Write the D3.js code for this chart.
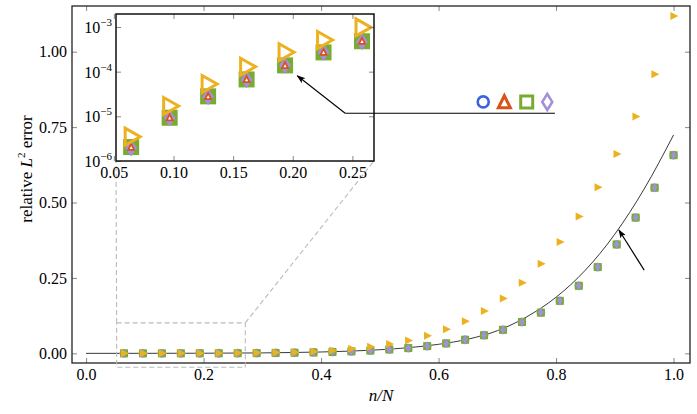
<!DOCTYPE html>
<html>
<head>
<meta charset="utf-8">
<script src="https://cdn.jsdelivr.net/npm/d3@7"></script>
<style>
  body { margin: 0; background: #fff; }
  text { font-family: "Liberation Serif", "DejaVu Serif", serif; fill: #000; }
</style>
</head>
<body>
<div id="chart"></div>
<script>
// sample index n, the x value is n/N
var N = 31;
var nValues = [2, 3, 4, 5, 6, 7, 8, 9, 10, 11, 12, 13, 14, 15, 16, 17, 18, 19, 20, 21, 22, 23, 24, 25, 26, 27, 28, 29, 30, 31];

// four nearly identical methods (circle, triangle, square, diamond)
var errCircle = [2.1e-6, 9.4e-6, 2.8e-5, 6.7e-5, 1.38e-4, 2.7e-4, 4.8e-4, 8.0e-4, 1.3e-3, 2.0e-3, 3.0e-3, 4.5e-3, 6.5e-3, 9.2e-3, 0.0128, 0.0175, 0.024, 0.033, 0.045, 0.060, 0.078, 0.104, 0.135, 0.174, 0.224, 0.286, 0.361, 0.450, 0.549, 0.657];
var errTriangle = [2.0e-6, 9.2e-6, 2.75e-5, 6.6e-5, 1.36e-4, 2.68e-4, 4.75e-4, 7.9e-4, 1.29e-3, 2.0e-3, 3.0e-3, 4.5e-3, 6.5e-3, 9.1e-3, 0.0127, 0.0174, 0.024, 0.033, 0.045, 0.060, 0.078, 0.104, 0.135, 0.174, 0.224, 0.285, 0.360, 0.449, 0.548, 0.656];
var errSquare = [2.05e-6, 9.3e-6, 2.8e-5, 6.7e-5, 1.38e-4, 2.7e-4, 4.8e-4, 8.0e-4, 1.3e-3, 2.0e-3, 3.0e-3, 4.5e-3, 6.5e-3, 9.2e-3, 0.0128, 0.0175, 0.024, 0.033, 0.045, 0.060, 0.078, 0.104, 0.135, 0.174, 0.224, 0.286, 0.361, 0.450, 0.549, 0.657];
var errDiamond = [1.95e-6, 9.2e-6, 2.75e-5, 6.6e-5, 1.37e-4, 2.68e-4, 4.7e-4, 7.9e-4, 1.29e-3, 2.0e-3, 3.0e-3, 4.5e-3, 6.5e-3, 9.1e-3, 0.0127, 0.0174, 0.024, 0.033, 0.045, 0.060, 0.078, 0.104, 0.135, 0.174, 0.224, 0.286, 0.361, 0.450, 0.549, 0.657];
// the method that does worse (orange right triangles)
var errOrange = [3.5e-6, 1.7e-5, 5.3e-5, 1.29e-4, 2.72e-4, 5.1e-4, 9.8e-4, 1.6e-3, 2.5e-3, 3.9e-3, 6.2e-3, 9.8e-3, 0.0150, 0.022, 0.031, 0.043, 0.058, 0.080, 0.106, 0.140, 0.182, 0.234, 0.297, 0.369, 0.454, 0.551, 0.661, 0.785, 0.925, 1.118];

// reference curve (black line)
var curveX = [0, 0.1, 0.2, 0.3, 0.35, 0.4, 0.45, 0.5, 0.55, 0.6, 0.65, 0.7, 0.75, 0.8, 0.85, 0.9, 0.95, 1.0];
var curveY = [0, 0.00005, 0.0004, 0.0015, 0.0028, 0.0045, 0.0075, 0.012, 0.019, 0.030, 0.047, 0.075, 0.121, 0.186, 0.276, 0.395, 0.545, 0.724];

// ticks
var xTicks = [0, 0.2, 0.4, 0.6, 0.8, 1.0];
var yTicks = [0, 0.25, 0.5, 0.75, 1.0];
var insetXTicks = [0.05, 0.10, 0.15, 0.20, 0.25];
var insetYTicks = [1e-6, 1e-5, 1e-4, 1e-3];

var blue = "#3a64de", red = "#d95319", green = "#77ac30", purple = "#a48fd8", orange = "#edb120";
var serif = "'Liberation Serif', 'DejaVu Serif', serif";

var W = 697, H = 414;
var svg = d3.select("#chart").append("svg").attr("width", W).attr("height", H);

var x = d3.scaleLinear().domain([-0.024, 1.028]).range([72, 690]);
var y = d3.scaleLinear().domain([-0.032, 1.1515]).range([363, 6]);

var xi = d3.scaleLinear().domain([0.0518, 0.2681]).range([116, 374]);
var yi = d3.scaleLog().domain([1e-6, Math.pow(10, -2.709)]).range([161, 14]);

// marker shapes centered on 0,0
function sq(s) { return "M" + (-s/2) + "," + (-s/2) + "h" + s + "v" + s + "h" + (-s) + "Z"; }
function dia(w, h) { return "M0," + (-h/2) + "L" + (w/2) + ",0L0," + (h/2) + "L" + (-w/2) + ",0Z"; }
function triUp(w, h) { return "M0," + (-h*0.6) + "L" + (w/2) + "," + (h*0.4) + "L" + (-w/2) + "," + (h*0.4) + "Z"; }
function triRight(w, h) { return "M" + (w*0.6) + ",0L" + (-w*0.4) + "," + (h/2) + "L" + (-w*0.4) + "," + (-h/2) + "Z"; }

var pts = nValues.map(function(n, i) {
  return { r: n / N, c: errCircle[i], t: errTriangle[i], s: errSquare[i], d: errDiamond[i], o: errOrange[i] };
});

var defs = svg.append("defs");
defs.append("marker").attr("id", "head").attr("viewBox", "0 0 10 10")
  .attr("refX", 9).attr("refY", 5).attr("markerWidth", 9).attr("markerHeight", 9)
  .attr("markerUnits", "userSpaceOnUse").attr("orient", "auto")
  .append("path").attr("d", "M0,1.5L10,5L0,8.5L2.5,5Z").attr("fill", "#000");

// ---------- main axes ----------
var main = svg.append("g");

function drawMarks(g, X, Y, big) {
  g.selectAll(".mc").data(pts).enter().append("circle")
    .attr("cx", function(d) { return X(d.r); }).attr("cy", function(d) { return Y(d.c); })
    .attr("r", big ? 5.5 : 4.4)
    .attr("fill", big ? "none" : "#9fb3ee").attr("stroke", big ? blue : "none").attr("stroke-width", 2.5);
  g.selectAll(".ms").data(pts).enter().append("path")
    .attr("transform", function(d) { return "translate(" + X(d.r) + "," + Y(d.s) + ")"; })
    .attr("d", sq(big ? 16 : 8)).attr("fill", green);
  g.selectAll(".md").data(pts).enter().append("path")
    .attr("transform", function(d) { return "translate(" + X(d.r) + "," + Y(d.d) + ")"; })
    .attr("d", big ? dia(12, 17) : dia(6, 9))
    .attr("fill", purple);
  g.selectAll(".mt").data(pts).enter().append("path")
    .attr("transform", function(d) { return "translate(" + X(d.r) + "," + Y(d.t) + ")"; })
    .attr("d", big ? triUp(6, 6) : triUp(3, 3))
    .attr("fill", "#fff").attr("stroke", red).attr("stroke-width", big ? 1.8 : 0)
    .attr("opacity", big ? 1 : 0);
  g.selectAll(".mo").data(pts).enter().append("path")
    .attr("transform", function(d) { return "translate(" + X(d.r) + "," + Y(d.o) + ")"; })
    .attr("d", big ? triRight(15, 17) : triRight(8, 8))
    .attr("fill", big ? "none" : orange).attr("stroke", orange).attr("stroke-width", big ? 3 : 0)
    .attr("stroke-linejoin", "miter");
}

var curve = d3.line().x(function(d, i) { return x(curveX[i]); }).y(function(d) { return y(d); }).curve(d3.curveMonotoneX);
main.append("path").attr("d", curve(curveY)).attr("fill", "none").attr("stroke", "#222").attr("stroke-width", 0.9);

drawMarks(main, x, y, false);

// arrow onto the curve
main.append("line")
  .attr("x1", x(0.950)).attr("y1", y(0.276)).attr("x2", x(0.907)).attr("y2", y(0.409))
  .attr("stroke", "#000").attr("stroke-width", 1.2).attr("marker-end", "url(#head)");

// axes ticks on all four sides, pointing inward
function styleAxis(g) {
  g.attr("font-family", null);
  g.select(".domain").remove();
  g.selectAll(".tick line").attr("stroke", "#888").attr("stroke-width", 1);
  g.selectAll(".tick text").style("font-family", serif).attr("fill", "#000");
}
svg.append("g").attr("transform", "translate(0,363)")
  .call(d3.axisBottom(x).tickValues(xTicks).tickFormat(d3.format(".1f")).tickSizeInner(-5).tickSizeOuter(0).tickPadding(6))
  .call(styleAxis).selectAll("text").attr("font-size", 16);
svg.append("g").attr("transform", "translate(0,6)")
  .call(d3.axisTop(x).tickValues(xTicks).tickFormat("").tickSizeInner(-5).tickSizeOuter(0)).call(styleAxis);
svg.append("g").attr("transform", "translate(72,0)")
  .call(d3.axisLeft(y).tickValues(yTicks).tickFormat(d3.format(".2f")).tickSizeInner(-5).tickSizeOuter(0).tickPadding(5))
  .call(styleAxis).selectAll("text").attr("font-size", 16);
svg.append("g").attr("transform", "translate(690,0)")
  .call(d3.axisRight(y).tickValues(yTicks).tickFormat("").tickSizeInner(-5).tickSizeOuter(0)).call(styleAxis);

svg.append("rect").attr("x", 72).attr("y", 6).attr("width", 618).attr("height", 357)
  .attr("fill", "none").attr("stroke", "#222").attr("stroke-width", 1.3);

// axis labels
svg.append("text").attr("x", 381).attr("y", 401).attr("text-anchor", "middle").attr("font-size", 17)
  .style("font-family", serif).style("font-style", "italic").text("n/N");
var yl = svg.append("text").attr("transform", "translate(32,169) rotate(-90)")
  .attr("text-anchor", "middle").attr("font-size", 17).style("font-family", serif);
yl.append("tspan").text("relative ");
yl.append("tspan").style("font-style", "italic").text("L");
yl.append("tspan").attr("font-size", 11).attr("dy", -7).text("2");
yl.append("tspan").attr("dy", 7).text(" error");

// zoom box and connectors (gray dashed)
var zoomBox = { x0: 0.052, x1: 0.271, y0: -0.046, y1: 0.101 };
svg.append("rect")
  .attr("x", x(zoomBox.x0)).attr("y", y(zoomBox.y1))
  .attr("width", x(zoomBox.x1) - x(zoomBox.x0)).attr("height", y(zoomBox.y0) - y(zoomBox.y1))
  .attr("fill", "none").attr("stroke", "#bbb").attr("stroke-width", 1.1).attr("stroke-dasharray", "5,3");
svg.append("line").attr("x1", x(zoomBox.x0)).attr("y1", y(zoomBox.y1)).attr("x2", xi.range()[0]).attr("y2", yi.range()[0])
  .attr("stroke", "#bbb").attr("stroke-width", 1.1).attr("stroke-dasharray", "5,3");
svg.append("line").attr("x1", x(zoomBox.x1)).attr("y1", y(zoomBox.y1)).attr("x2", xi.range()[1]).attr("y2", yi.range()[0])
  .attr("stroke", "#bbb").attr("stroke-width", 1.1).attr("stroke-dasharray", "5,3");

// ---------- inset (log scale) ----------
svg.append("rect").attr("x", 116).attr("y", 14).attr("width", 258).attr("height", 147).attr("fill", "#fff");
svg.append("clipPath").attr("id", "insetClip").append("rect")
  .attr("x", 116).attr("y", 14).attr("width", 258).attr("height", 147);
var inset = svg.append("g").attr("clip-path", "url(#insetClip)");
drawMarks(inset, xi, yi, true);

svg.append("g").attr("transform", "translate(0,161)")
  .call(d3.axisBottom(xi).tickValues(insetXTicks).tickFormat(d3.format(".2f")).tickSizeInner(-5).tickSizeOuter(0).tickPadding(6))
  .call(styleAxis).selectAll("text").attr("font-size", 16);
svg.append("g").attr("transform", "translate(0,14)")
  .call(d3.axisTop(xi).tickValues(insetXTicks).tickFormat("").tickSizeInner(-5).tickSizeOuter(0)).call(styleAxis);
svg.append("g").attr("transform", "translate(116,0)")
  .call(d3.axisLeft(yi).tickValues(insetYTicks).tickFormat("").tickSizeInner(-5).tickSizeOuter(0))
  .call(styleAxis);
svg.append("g").attr("transform", "translate(374,0)")
  .call(d3.axisRight(yi).tickValues(insetYTicks).tickFormat("").tickSizeInner(-5).tickSizeOuter(0)).call(styleAxis);

// 10^k labels with real superscripts
insetYTicks.forEach(function(v) {
  var t = svg.append("text").attr("x", 112).attr("y", yi(v) + 6).attr("text-anchor", "end")
    .attr("font-size", 16).style("font-family", serif);
  t.append("tspan").text("10");
  t.append("tspan").attr("font-size", 11).attr("dy", -7).text("\u2212" + Math.round(-Math.log10(v)));
});

svg.append("rect").attr("x", 116).attr("y", 14).attr("width", 258).attr("height", 147)
  .attr("fill", "none").attr("stroke", "#111").attr("stroke-width", 1.5);

// annotation: arrow into the inset, leader line under the marker legend
var tail = { r: 0.441, v: 0.796 }, lineEnd = 0.798;
svg.append("line")
  .attr("x1", x(tail.r)).attr("y1", y(tail.v)).attr("x2", xi(0.2038)).attr("y2", yi(8.1e-5))
  .attr("stroke", "#000").attr("stroke-width", 1.1).attr("marker-end", "url(#head)");
svg.append("line")
  .attr("x1", x(tail.r)).attr("y1", y(tail.v)).attr("x2", x(lineEnd)).attr("y2", y(tail.v))
  .attr("stroke", "#000").attr("stroke-width", 1.1);

// marker legend
var legY = 0.8335;
var leg = svg.append("g");
leg.append("circle").attr("cx", x(0.676)).attr("cy", y(legY)).attr("r", 5.5)
  .attr("fill", "none").attr("stroke", blue).attr("stroke-width", 2.6);
leg.append("path").attr("transform", "translate(" + x(0.712) + "," + (y(legY) + 1) + ")")
  .attr("d", triUp(12, 12)).attr("fill", "#fff").attr("stroke", red).attr("stroke-width", 3).attr("stroke-linejoin", "miter");
leg.append("path").attr("transform", "translate(" + x(0.750) + "," + y(legY) + ")")
  .attr("d", sq(12)).attr("fill", "none").attr("stroke", green).attr("stroke-width", 3);
leg.append("path").attr("transform", "translate(" + x(0.785) + "," + y(legY) + ")")
  .attr("d", dia(10, 16)).attr("fill", "none").attr("stroke", purple).attr("stroke-width", 2.6);
</script>
</body>
</html>
